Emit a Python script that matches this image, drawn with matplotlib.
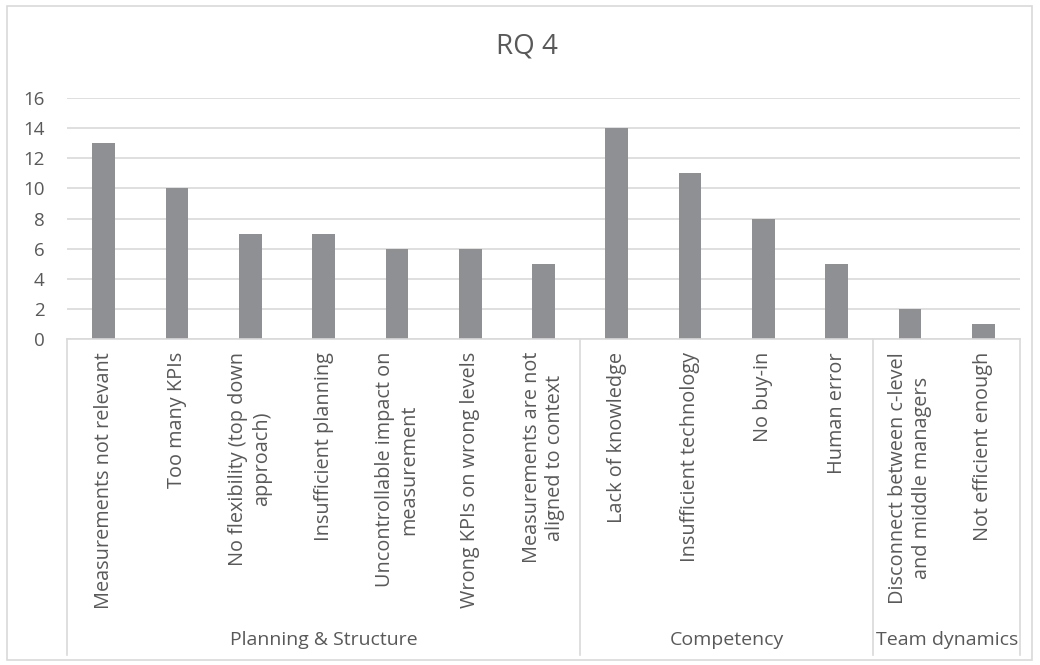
import matplotlib.pyplot as plt
from matplotlib.lines import Line2D
from matplotlib.patches import Rectangle
import matplotlib.transforms as mtransforms

plt.rcParams['font.family'] = ['Open Sans', 'DejaVu Sans']

labels = ['Measurements not relevant', 'Too many KPIs',
          'No flexibility (top down\napproach)', 'Insufficient planning',
          'Uncontrollable impact on\nmeasurement', 'Wrong KPIs on wrong levels',
          'Measurements are not\naligned to context',
          'Lack of knowledge', 'Insufficient technology', 'No buy-in', 'Human error',
          'Disconnect between c-level\nand middle managers', 'Not efficient enough']
values = [13, 10, 7, 7, 6, 6, 5, 14, 11, 8, 5, 2, 1]
groups = ['Planning & Structure', 'Competency', 'Team dynamics']
group_sizes = [7, 4, 2]

text_col = '#595959'
grid_col = '#d9d9d9'
bar_col = '#8f9094'

fig = plt.figure(figsize=(10.4, 6.65), dpi=100)
W, H = 1040, 665
ax = fig.add_axes([67 / W, (H - 339) / H, (1020 - 67) / W, (339 - 98) / H])

x = list(range(len(values)))
ax.bar(x, values, width=0.31, color=bar_col, zorder=2)
ax.set_xlim(-0.5, len(values) - 0.5)
ax.set_ylim(0, 16)
ax.set_yticks(range(0, 17, 2))
ax.yaxis.grid(True, color=grid_col, lw=1.2, zorder=0)
ax.set_xticks([])
for s in ax.spines.values():
    s.set_visible(False)
ax.tick_params(axis='y', length=0, pad=16, labelsize=13.5, labelcolor=text_col)

fig.text(527 / W, (H - 47) / H, 'RQ 4', fontsize=20, color=text_col,
         ha='center', va='center')

# category labels below the axis
trans = mtransforms.blended_transform_factory(ax.transData, fig.transFigure)
for xi, lab in zip(x, labels):
    ax.text(xi, (H - 352) / H, lab, rotation=90, ha='center', va='top',
            multialignment='center', fontsize=14.3, color=text_col,
            transform=trans, linespacing=1.25)

# axis line and group separators
fig.add_artist(Line2D([67 / W, 1020 / W], [(H - 339) / H] * 2, color=grid_col, lw=1.2))
bounds = [0]
for g in group_sizes:
    bounds.append(bounds[-1] + g)
for b in bounds:
    xb = b - 0.5
    ax.add_artist(Line2D([xb, xb], [(H - 339) / H, (H - 655) / H], color=grid_col,
                         lw=1.2, transform=trans, clip_on=False))
for i, g in enumerate(groups):
    xc = (bounds[i] + bounds[i + 1] - 1) / 2
    ax.text(xc, (H - 640) / H, g, ha='center', va='center', fontsize=14,
            color=text_col, transform=trans)

# chart border
fig.add_artist(Rectangle((7 / W, 5 / H), 1025 / W, 654 / H, transform=fig.transFigure,
                         fill=False, edgecolor=grid_col, lw=1.2))

plt.savefig('out.png', dpi=100)
